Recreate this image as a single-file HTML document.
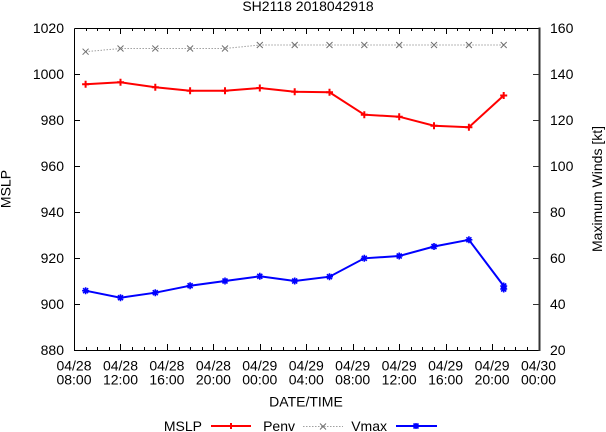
<!DOCTYPE html>
<html><head><meta charset="utf-8"><style>
html,body{margin:0;padding:0;background:#fff;}
svg{display:block;}
text{font-family:"Liberation Sans",Arial,sans-serif;font-size:14px;fill:#000;}
</style></head><body>
<svg width="606" height="432" viewBox="0 0 606 432" xmlns="http://www.w3.org/2000/svg">
<rect width="606" height="432" fill="#fff"/>
<text x="308" y="11" text-anchor="middle">SH2118 2018042918</text>

<!-- plot border -->
<path d="M74.5,28.5 H539 M74.5,28.5 V350.5 H539" stroke="#000" stroke-width="1" fill="none"/>
<line x1="539.5" y1="27.5" x2="539.5" y2="351" stroke="#333" stroke-width="2"/>

<!-- y ticks (left & right) -->
<g stroke="#000" stroke-width="1">
<path d="M74,74.5h6 M74,120.5h6 M74,166.5h6 M74,212.5h6 M74,258.5h6 M74,304.5h6"/>
</g>
<g stroke="#333" stroke-width="1">
<path d="M539,74.5h-6 M539,120.5h-6 M539,166.5h-6 M539,212.5h-6 M539,258.5h-6 M539,304.5h-6"/>
</g>

<!-- x ticks -->
<g stroke="#000" stroke-width="1" id="xt"></g>

<!-- left labels -->
<g text-anchor="end">
<text x="64" y="33">1020</text>
<text x="64" y="79">1000</text>
<text x="64" y="125">980</text>
<text x="64" y="171">960</text>
<text x="64" y="217">940</text>
<text x="64" y="263">920</text>
<text x="64" y="309">900</text>
<text x="64" y="355">880</text>
</g>
<!-- right labels -->
<g text-anchor="start">
<text x="550" y="33">160</text>
<text x="550" y="79">140</text>
<text x="550" y="125">120</text>
<text x="550" y="171">100</text>
<text x="550" y="217">80</text>
<text x="550" y="263">60</text>
<text x="550" y="309">40</text>
<text x="550" y="355">20</text>
</g>

<!-- x labels -->
<g text-anchor="middle">
<text x="74" y="370.5">04/28</text><text x="74" y="384.5">08:00</text>
<text x="120.5" y="370.5">04/28</text><text x="120.5" y="384.5">12:00</text>
<text x="166.9" y="370.5">04/28</text><text x="166.9" y="384.5">16:00</text>
<text x="213.4" y="370.5">04/28</text><text x="213.4" y="384.5">20:00</text>
<text x="259.8" y="370.5">04/29</text><text x="259.8" y="384.5">00:00</text>
<text x="306.3" y="370.5">04/29</text><text x="306.3" y="384.5">04:00</text>
<text x="352.7" y="370.5">04/29</text><text x="352.7" y="384.5">08:00</text>
<text x="399.2" y="370.5">04/29</text><text x="399.2" y="384.5">12:00</text>
<text x="445.6" y="370.5">04/29</text><text x="445.6" y="384.5">16:00</text>
<text x="492.1" y="370.5">04/29</text><text x="492.1" y="384.5">20:00</text>
<text x="538.5" y="370.5">04/30</text><text x="538.5" y="384.5">00:00</text>
</g>

<text x="306" y="406.5" text-anchor="middle">DATE/TIME</text>
<text transform="translate(10.5,189) rotate(-90)" text-anchor="middle">MSLP</text>
<text transform="translate(602,189) rotate(-90)" text-anchor="middle">Maximum Winds [kt]</text>

<!-- Penv gray dotted -->
<polyline fill="none" stroke="#a0a0a0" stroke-width="1" stroke-dasharray="1.5,1.5"
 points="85.6,51.7 120.5,48.5 155.3,48.5 190.1,48.5 225,48.5 259.8,45 294.7,45 329.5,45 364.3,45 399.2,45 434,45 468.9,45 503.7,45"/>
<g id="gx" stroke="#707070" stroke-width="1"></g>

<!-- MSLP red -->
<polyline fill="none" stroke="#ff0000" stroke-width="2"
 points="85.6,84.3 120.5,82.3 155.3,87.3 190.1,90.7 225,90.7 259.8,88 294.7,91.7 329.5,92.3 364.3,114.7 399.2,116.7 434,125.7 468.9,127.2 503.7,95.5"/>
<g id="rp" stroke="#ff0000" stroke-width="2"></g>

<!-- Vmax blue -->
<polyline fill="none" stroke="#0000ff" stroke-width="2"
 points="85.6,290.7 120.5,297.7 155.3,292.7 190.1,285.7 225,281 259.8,276.3 294.7,281 329.5,276.7 364.3,258.3 399.2,256 434,246.5 468.9,239.8 503.7,286 503.7,289"/>
<g id="bp" stroke="#0000ff" stroke-width="1.6"></g>

<!-- legend -->
<text x="202" y="431" text-anchor="end">MSLP</text>
<line x1="211" y1="426" x2="251" y2="426" stroke="#ff0000" stroke-width="2"/>
<path d="M228,426h6 M231,423v6" stroke="#ff0000" stroke-width="2"/>
<text x="295" y="431" text-anchor="end">Penv</text>
<line x1="303" y1="426.5" x2="343" y2="426.5" stroke="#a0a0a0" stroke-width="1" stroke-dasharray="1.5,1.5"/>
<path d="M320,423.5l6,6 M326,423.5l-6,6" stroke="#707070" stroke-width="1"/>
<text x="387" y="431" text-anchor="end">Vmax</text>
<line x1="396" y1="426" x2="437" y2="426" stroke="#0000ff" stroke-width="2"/>
<path d="M413,426h6 M416,423v6 M413.5,423.5l5,5 M418.5,423.5l-5,5" stroke="#0000ff" stroke-width="1.6"/>
</svg>
<script>
(function(){
var ns="http://www.w3.org/2000/svg";
var xt=document.getElementById("xt"),d="";
for(var h=0;h<=40;h++){var x=74+h*11.6125;var L=(h%4==0)?6:3;if(h==0||h==40)continue;var xx=Math.round(x)+0.5;
d+="M"+xx+",350v-"+L+" M"+xx+",28v"+L+" ";}
var p=document.createElementNS(ns,"path");p.setAttribute("d",d);xt.appendChild(p);
var xs=[85.6,120.5,155.3,190.1,225,259.8,294.7,329.5,364.3,399.2,434,468.9,503.7];
var gy=[51.7,48.5,48.5,48.5,48.5,45,45,45,45,45,45,45,45];
var ry=[84.3,82.3,87.3,90.7,90.7,88,91.7,92.3,114.7,116.7,125.7,127.2,95.5];
var by=[290.7,297.7,292.7,285.7,281,276.3,281,276.7,258.3,256,246.5,239.8,286,289];
var s="";for(var i=0;i<13;i++){s+="M"+(xs[i]-3)+","+(gy[i]-3)+"l6,6 M"+(xs[i]+3)+","+(gy[i]-3)+"l-6,6 ";}
p=document.createElementNS(ns,"path");p.setAttribute("d",s);document.getElementById("gx").appendChild(p);
s="";for(i=0;i<13;i++){s+="M"+(xs[i]-3.5)+","+ry[i]+"h7 M"+xs[i]+","+(ry[i]-3.5)+"v7 ";}
p=document.createElementNS(ns,"path");p.setAttribute("d",s);document.getElementById("rp").appendChild(p);
s="";for(i=0;i<14;i++){var X=xs[Math.min(i,12)],Y=by[i];s+="M"+(X-3.5)+","+Y+"h7 M"+X+","+(Y-3.5)+"v7 M"+(X-2.5)+","+(Y-2.5)+"l5,5 M"+(X+2.5)+","+(Y-2.5)+"l-5,5 ";}
p=document.createElementNS(ns,"path");p.setAttribute("d",s);document.getElementById("bp").appendChild(p);
})();
</script>
</body></html>
